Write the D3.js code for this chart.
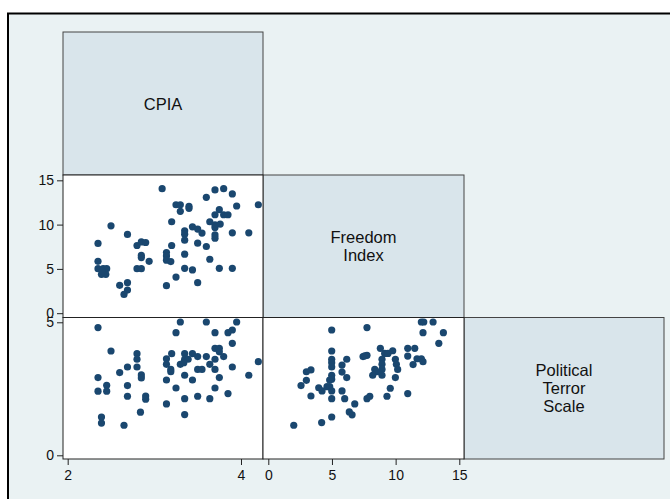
<!DOCTYPE html>
<html><head><meta charset="utf-8">
<script src="https://cdn.jsdelivr.net/npm/d3@7"></script>
<style>html,body{margin:0;padding:0;background:#fff;}svg{display:block;}</style>
</head><body>
<svg id="chart" width="670" height="499"></svg>
<script>
// Variable names (diagonal labels)
const varLabels = [["CPIA"], ["Freedom", "Index"], ["Political", "Terror", "Scale"]];
// Tick labels
const cpiaTicks = [2, 4];
const freedomTicks = [0, 5, 10, 15];
const ptsTicks = [0, 5];
// Scatter values: [x, y]
const cpiaFreedom = [
 [3.09,14.06],[2.50,9.86],[2.69,8.89],[2.35,7.87],[2.80,7.64],[2.85,8.05],[2.90,7.98],[2.85,6.54],[2.85,6.28],[2.94,5.86],
 [2.35,5.86],[2.35,5.03],[2.41,5.03],[2.45,5.03],[2.39,4.39],[2.44,4.39],[2.40,4.76],[2.80,5.03],[2.85,5.03],[2.60,3.14],
 [2.69,3.45],[2.69,2.61],[2.65,2.12],[3.25,12.24],[3.30,12.24],[3.30,11.50],[3.40,12.06],[3.40,11.84],[3.60,13.08],[3.70,13.91],
 [3.80,14.06],[3.90,13.46],[3.95,12.10],[4.20,12.24],[3.75,11.68],[3.70,11.11],[3.80,11.11],[3.85,11.11],[3.64,10.32],[3.70,9.98],
 [3.76,10.06],[3.70,9.68],[3.20,10.32],[3.44,9.75],[3.50,9.49],[3.55,9.04],[3.35,9.30],[3.35,8.92],[3.70,8.84],[3.70,8.47],
 [3.90,9.07],[4.09,9.07],[3.35,8.24],[3.50,7.90],[3.60,7.53],[3.20,7.64],[3.14,6.85],[3.14,6.46],[3.14,5.98],[3.19,5.83],
 [3.35,6.66],[3.64,6.09],[3.35,5.07],[3.44,4.88],[3.75,5.07],[3.90,5.07],[3.25,4.08],[3.14,3.11],[3.50,3.45]
];
const cpiaPts = [
 [2.35,4.80],[2.50,3.92],[2.80,3.82],[2.80,3.61],[2.80,3.32],[2.69,3.32],[2.60,3.11],[2.85,3.02],[2.85,2.91],[2.35,2.92],
 [2.45,2.63],[2.45,2.41],[2.35,2.41],[2.69,2.62],[2.69,2.22],[2.90,2.23],[2.90,2.11],[2.84,1.62],[2.39,1.44],[2.39,1.21],
 [2.65,1.13],[3.30,5.01],[3.60,5.01],[3.95,5.01],[3.25,4.61],[3.70,4.61],[3.85,4.61],[3.90,4.71],[3.90,4.21],[3.70,4.02],
 [3.75,4.02],[3.75,3.89],[3.80,3.71],[3.14,3.63],[3.14,3.42],[3.20,3.82],[3.35,3.82],[3.44,3.82],[3.50,3.71],[3.60,3.71],
 [3.35,3.61],[3.39,3.61],[3.30,3.42],[3.34,3.48],[3.64,3.42],[3.70,3.61],[3.19,3.23],[3.19,3.14],[3.50,3.23],[3.55,3.23],
 [3.70,3.23],[3.90,3.32],[4.20,3.52],[3.35,3.01],[3.75,2.92],[4.09,3.01],[3.14,2.83],[3.44,2.83],[3.25,2.53],[3.70,2.53],
 [3.85,2.32],[3.35,2.13],[3.50,2.22],[3.64,2.13],[3.14,1.93],[3.35,1.53]
];
const freedomPts = [
 [4.98,4.71],[4.98,3.92],[4.98,3.61],[4.98,3.48],[4.98,3.32],[6.16,3.61],[5.79,3.39],[3.35,3.21],[2.99,3.14],[4.98,3.01],
 [4.98,2.86],[4.82,2.83],[4.61,2.58],[4.82,2.58],[4.98,2.42],[5.79,3.13],[6.16,2.92],[2.99,2.82],[2.57,2.62],[3.96,2.54],
 [4.22,2.42],[3.35,2.23],[4.98,2.13],[5.79,2.42],[6.00,2.13],[6.79,1.93],[6.36,1.63],[6.58,1.52],[4.98,1.44],[4.19,1.23],
 [2.00,1.13],[7.75,4.80],[7.44,3.71],[7.75,3.76],[7.57,3.74],[7.75,2.13],[7.97,2.22],[12.02,5.01],[12.21,5.01],[12.94,5.01],
 [12.15,4.61],[13.75,4.61],[13.39,4.21],[8.80,4.02],[9.14,3.83],[9.40,3.83],[9.77,3.93],[10.95,4.02],[11.50,4.02],[10.95,3.73],
 [11.68,3.63],[12.02,3.63],[12.15,3.52],[11.37,3.41],[8.93,3.61],[8.93,3.42],[8.93,3.23],[8.93,3.01],[9.98,3.61],[10.06,3.42],
 [10.16,3.23],[8.36,3.23],[8.54,3.14],[8.20,3.01],[9.98,2.92],[9.58,2.52],[9.32,2.22],[10.95,2.32]
];

const svg = d3.select("#chart");
const FONT = "'Liberation Sans', Arial, Helvetica, sans-serif";
const navy = "#1a476f";

// outer graph region
svg.append("rect").attr("x", 8).attr("y", 13.5).attr("width", 700).attr("height", 520)
  .attr("fill", "#eaf2f3").attr("stroke", "#000").attr("stroke-width", 2);

// layout
const colX = [[63, 263], [263, 464], [464, 664]];
const rowY = [[32, 175], [175, 317.5], [317.5, 459]];

// scales (domains follow Stata's auto range around data)
const xs = [
  d3.scaleLinear().domain([1.946, 4.254]).range(colX[0]),
  d3.scaleLinear().domain([-0.416, 15.369]).range(colX[1])
];
const ys = [
  null,
  d3.scaleLinear().domain([-0.487, 15.6]).range([rowY[1][1], rowY[1][0]]),
  d3.scaleLinear().domain([-0.139, 5.18]).range([rowY[2][1], rowY[2][0]])
];

// diagonal boxes
varLabels.forEach((lines, i) => {
  const [x0, x1] = colX[i], [y0, y1] = rowY[i];
  svg.append("rect").attr("x", x0).attr("y", y0).attr("width", x1 - x0).attr("height", y1 - y0)
    .attr("fill", "#d9e5eb").attr("stroke", "#444").attr("stroke-width", 1);
  const cx = (x0 + x1) / 2, cy = (y0 + y1) / 2, lh = 18;
  const t = svg.append("text").attr("font-family", FONT).attr("font-size", 16.5).attr("fill", "#111")
    .attr("text-anchor", "middle");
  lines.forEach((ln, k) => {
    t.append("tspan").attr("x", cx).attr("y", cy + (k - (lines.length - 1) / 2) * lh + 6).text(ln);
  });
});

// scatter panels
const panels = [
  {row: 1, col: 0, data: cpiaFreedom},
  {row: 2, col: 0, data: cpiaPts},
  {row: 2, col: 1, data: freedomPts}
];
panels.forEach(p => {
  const [x0, x1] = colX[p.col], [y0, y1] = rowY[p.row];
  svg.append("rect").attr("x", x0).attr("y", y0).attr("width", x1 - x0).attr("height", y1 - y0)
    .attr("fill", "#fff").attr("stroke", "#222").attr("stroke-width", 1);
});
panels.forEach(p => {
  const xsc = xs[p.col], ysc = ys[p.row];
  svg.append("g").selectAll("circle").data(p.data).join("circle")
    .attr("cx", d => xsc(d[0])).attr("cy", d => ysc(d[1])).attr("r", 3.6).attr("fill", navy);
});

// axes
function styleAxis(g) {
  g.select(".domain").remove();
  g.selectAll(".tick line").attr("stroke", "#222");
  g.selectAll(".tick text").attr("font-family", FONT).attr("font-size", 14).attr("fill", "#111");
}
svg.append("g").attr("transform", `translate(${colX[0][0]},0)`)
  .call(d3.axisLeft(ys[1]).tickValues(freedomTicks).tickSize(6).tickPadding(3).tickFormat(d3.format("d")))
  .call(styleAxis);
svg.append("g").attr("transform", `translate(${colX[0][0]},0)`)
  .call(d3.axisLeft(ys[2]).tickValues(ptsTicks).tickSize(6).tickPadding(3).tickFormat(d3.format("d")))
  .call(styleAxis);
svg.append("g").attr("transform", `translate(0,${rowY[2][1]})`)
  .call(d3.axisBottom(xs[0]).tickValues(cpiaTicks).tickSize(6).tickPadding(5).tickFormat(d3.format("d")))
  .call(styleAxis);
svg.append("g").attr("transform", `translate(0,${rowY[2][1]})`)
  .call(d3.axisBottom(xs[1]).tickValues(freedomTicks).tickSize(6).tickPadding(5).tickFormat(d3.format("d")))
  .call(styleAxis);
</script>
</body></html>
